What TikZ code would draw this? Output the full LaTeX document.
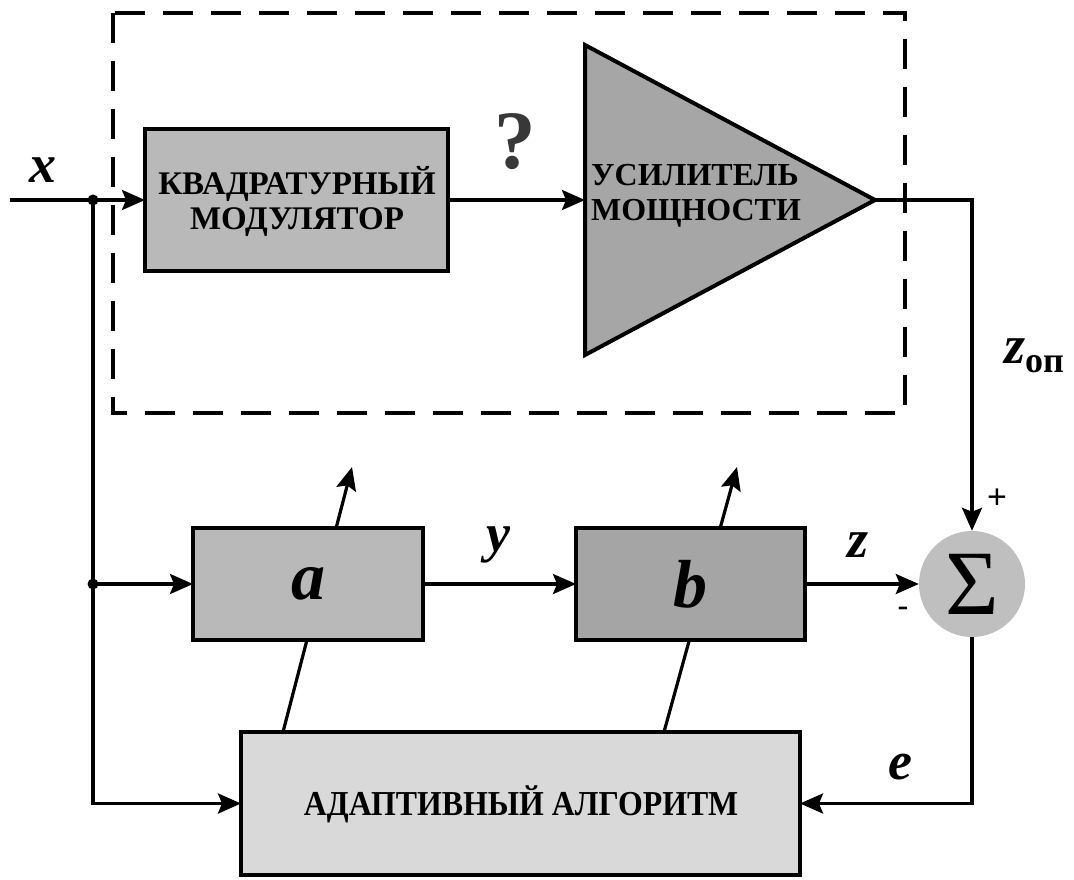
\documentclass[tikz,border=0pt]{standalone}
\usepackage{fontspec}
\setmainfont{Liberation Serif}[
  BoldFont={Liberation Serif Bold},
  ItalicFont={Liberation Serif Italic},
  BoldItalicFont={Liberation Serif Bold Italic}]
\newfontfamily\signfont{Liberation Sans}
\usetikzlibrary{arrows.meta,calc,backgrounds}

\definecolor{modgray}{HTML}{B9B9B9}
\definecolor{ampgray}{HTML}{A6A6A6}
\definecolor{bgray}{HTML}{A5A5A5}
\definecolor{sumgray}{HTML}{BFBFBF}
\definecolor{alggray}{HTML}{D9D9D9}
\definecolor{qgray}{HTML}{383838}

\tikzset{
  blk/.style={draw, line width=4pt, inner sep=0pt, outer sep=0pt},
  conn/.style={line width=3.2pt},
  arr/.style={conn, -{Stealth[length=23pt,width=20pt,inset=4pt]}},
  sig/.style={font=\fontsize{54}{54}\selectfont\bfseries\itshape, inner sep=0pt},
  coef/.style={font=\fontsize{68}{68}\selectfont\bfseries\itshape, inner sep=0pt},
  blocktext/.style={font=\fontsize{33}{35}\selectfont\bfseries, align=center, inner sep=0pt},
  jdot/.style={circle, fill, minimum size=11pt, inner sep=0pt},
  pm/.style={font=\signfont\fontsize{34}{34}\selectfont, inner sep=0pt},
}

\begin{document}
\begin{tikzpicture}[x=1pt,y=-1pt]
\useasboundingbox (0,0) rectangle (1074,879);

% dashed frame around the transmitter
\draw[line width=3.8pt, dash pattern=on 30pt off 18pt] (113,13) rectangle (905,413);

% blocks
\node[blk, fill=modgray, minimum width=303pt, minimum height=142pt] (mod) at (296.5,200) {};
\node[blocktext] (modtxt) at (297,201) {КВАДРАТУРНЫЙ\\МОДУЛЯТОР};

\draw[line width=4pt, fill=ampgray, line join=miter] (585,45) -- (875,200) -- (585,355) -- cycle;
\coordinate (ampin) at (585,200);
\coordinate (ampout) at (875,200);
\node[blocktext, font=\fontsize{32}{35}\selectfont\bfseries, align=left, anchor=west] (amptxt) at (591,196) {УСИЛИТЕЛЬ\\МОЩНОСТИ};

\node[blk, fill=modgray, minimum width=230pt, minimum height=112pt] (a) at (308,584) {};
\node[coef] at (a.center) {a};
\node[blk, fill=bgray, minimum width=229pt, minimum height=112pt] (b) at (690.5,584) {};
\node[coef] at (b.center) {b};

\node[circle, fill=sumgray, minimum size=106pt, inner sep=0pt] (sum) at (972,584)
  {\raisebox{-4pt}{\fontsize{92}{92}\selectfont Σ}};

\node[blk, fill=alggray, minimum width=559pt, minimum height=143pt] (alg) at (520.5,803.5) {};
\node[font=\fontsize{35}{35}\selectfont\bfseries, inner sep=0pt] (algtxt) at (521,804)
  {\scalebox{0.91}[1]{АДАПТИВНЫЙ АЛГОРИТМ}};

% signal paths
\coordinate (in) at (10,200);
\node[jdot] (j1) at (93,200) {};
\node[jdot] (j2) at (93,584) {};
\draw[conn] (in) -- (j1.center);
\draw[arr] (j1.center) -- (mod.west);
\draw[arr] (mod.east) -- (ampin);
\draw[arr] (ampout) -| (sum.north);
\draw[conn] (j1.center) -- (j2.center);
\draw[arr] (j2.center) |- (alg.west);
\draw[arr] (j2.center) -- (a.west);
\draw[arr] (a.east) -- (b.west);
\draw[arr] (b.east) -- (sum.west);
\draw[arr] (sum.south) |- (alg.east);

% adjustment arrows through the filters
\coordinate (atip) at (352,467);
\coordinate (btip) at (737,467);
\begin{scope}[on background layer]
  \draw[arr] ($(alg.north west)+(42,0)$) -- (atip);
  \draw[arr] ($(alg.north west)+(423,0)$) -- (btip);
\end{scope}

% labels
\node[sig] (lx) at (43,170) {x};
\node[sig] (ly) at (498,545) {y};
\node[sig] (lz) at (858,545) {z};
\node[sig] (le) at (900,767) {e};
\node[inner sep=0pt, anchor=base west] (lzop) at (1004,363)
  {{\fontsize{54}{54}\selectfont\bfseries\itshape z}\raisebox{-9pt}{\fontsize{36}{36}\selectfont\bfseries оп}};
\node[font=\fontsize{83}{83}\selectfont\bfseries, text=qgray, inner sep=0pt] (q) at (515,142) {?};
\node[pm] (plus) at (997,499) {+};
\node[pm] (minus) at (903,612) {-};
\end{tikzpicture}
\end{document}
